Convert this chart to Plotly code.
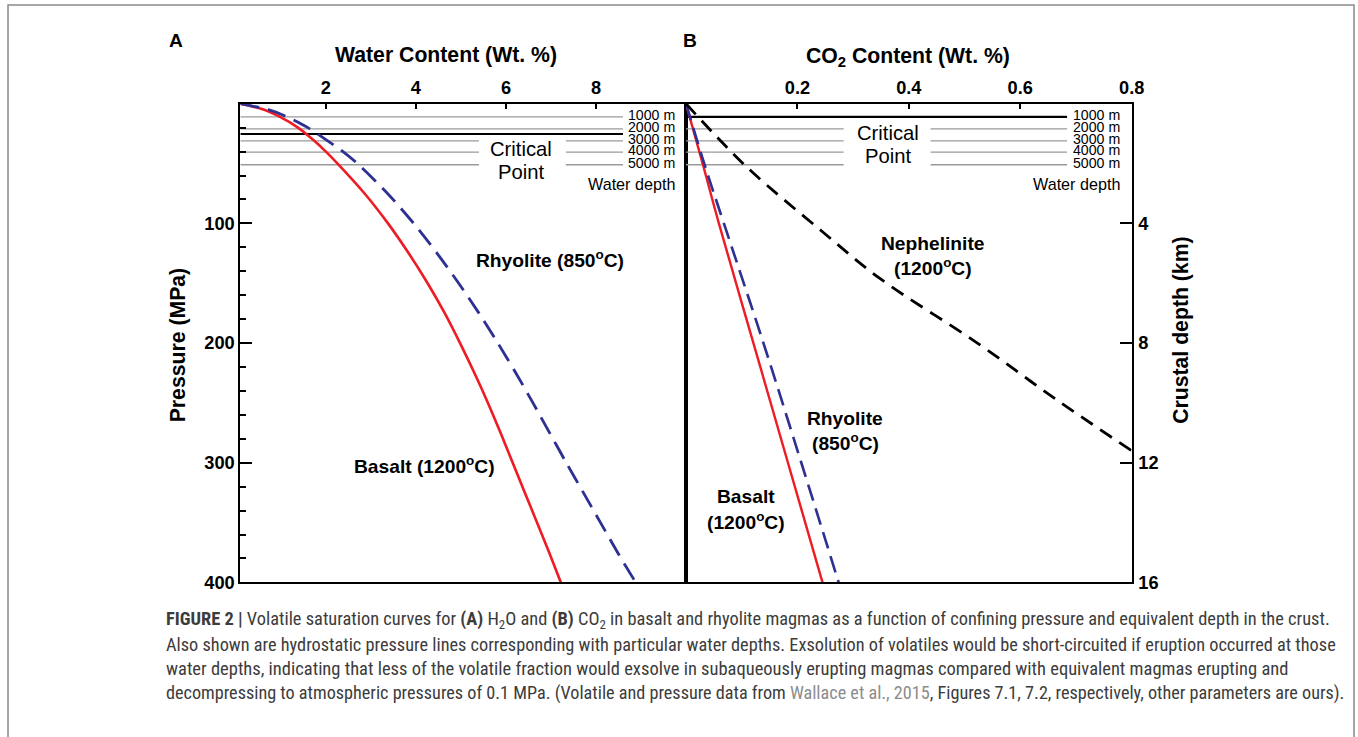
import plotly.graph_objects as go

# ---------------- data ----------------
# Panel A: H2O saturation (wt %) vs pressure (MPa)
pressure_basalt_A = [0, 5, 10, 20, 30, 40, 50, 75, 100, 125, 150, 175, 200, 225, 250, 275, 300,
                     325, 350, 375, 400]
water_basalt = [0.1, 0.63, 0.93, 1.38, 1.71, 2.0, 2.26, 2.86, 3.38, 3.84, 4.26, 4.64, 4.98, 5.3,
                5.6, 5.88, 6.15, 6.42, 6.69, 6.96, 7.22]
pressure_rhyolite_A = [0, 5, 10, 20, 30, 40, 50, 75, 100, 125, 150, 175, 200, 225, 250, 275, 300,
                       325, 350, 375, 398]
water_rhyolite = [0.1, 0.72, 1.08, 1.6, 2.0, 2.38, 2.7, 3.37, 3.95, 4.47, 4.95, 5.4, 5.82, 6.22,
                  6.6, 6.97, 7.34, 7.72, 8.1, 8.48, 8.85]

# Panel B: CO2 saturation (wt %) vs pressure (MPa)
pressure_B = [0, 52, 100, 200, 300, 400]
co2_basalt = [0, 0.031, 0.059, 0.121, 0.183, 0.245]
co2_rhyolite = [0, 0.034, 0.068, 0.139, 0.207, 0.274]
pressure_nephelinite = [0, 52, 107, 146, 200, 246, 290]
co2_nephelinite = [0, 0.107, 0.245, 0.348, 0.523, 0.661, 0.8]

# hydrostatic water-depth lines (pressure in MPa as drawn)
water_depth_labels = ["1000 m", "2000 m", "3000 m", "4000 m", "5000 m"]
water_depth_pressure = [11, 21, 31, 40.5, 51]
critical_pressure_A = 25.3
critical_pressure_B = 11

# axis ticks
water_ticks = [2, 4, 6, 8]
co2_ticks = [0.2, 0.4, 0.6, 0.8]
co2_tick_text = ["0.2", "0.4", "0.6", "0.8"]
pressure_ticks = [100, 200, 300, 400]
depth_ticks = [4, 8, 12, 16]

# ---------------- styles / layout constants ----------------
REF_W, REF_H = 1358, 737
S = 1 / 0.989                      # compensates the viewer's slight down-scaling
W, H = round(REF_W * S), round(REF_H * S)
RED = "#ee1c24"
BLUE = "#2e3192"
GRAY = "#9a9a9a"
FONT = "Liberation Sans, Arial"
CAP_FONT = "Roboto Condensed, Liberation Sans Narrow, Liberation Sans"

def fs(v):
    return v * S

def px_x(v):
    return v / REF_W

def px_y(v):
    return 1 - v / REF_H

plot_top, plot_bottom = 104, 584
A_left, A_right, B_right = 240, 685, 1130

fig = go.Figure()

# ---- panel A depth lines ----
A_line_x0, A_line_x1 = 0.1, 8.6
A_gap = (5.4, 7.33)
for i, p in enumerate(water_depth_pressure):
    if i < 2:
        xs, ys = [A_line_x0, A_line_x1], [p, p]
    else:
        xs = [A_line_x0, A_gap[0], None, A_gap[1], A_line_x1]
        ys = [p, p, None, p, p]
    fig.add_trace(go.Scatter(x=xs, y=ys, mode="lines", line=dict(color=GRAY, width=fs(1.3)),
                             xaxis="x", yaxis="y", hoverinfo="skip"))
fig.add_trace(go.Scatter(x=[A_line_x0, A_line_x1], y=[critical_pressure_A] * 2, mode="lines",
                         line=dict(color="black", width=fs(2)), xaxis="x", yaxis="y", hoverinfo="skip"))

# ---- panel B depth lines ----
B_line_x0, B_line_x1 = 0.0, 0.684
B_gap = (0.283, 0.439)
for i, p in enumerate(water_depth_pressure):
    if i == 0:
        continue
    xs = [B_line_x0, B_gap[0], None, B_gap[1], B_line_x1]
    ys = [p, p, None, p, p]
    fig.add_trace(go.Scatter(x=xs, y=ys, mode="lines", line=dict(color=GRAY, width=fs(1.3)),
                             xaxis="x2", yaxis="y2", hoverinfo="skip"))
fig.add_trace(go.Scatter(x=[B_line_x0, B_line_x1], y=[critical_pressure_B] * 2, mode="lines",
                         line=dict(color="black", width=fs(2)), xaxis="x2", yaxis="y2", hoverinfo="skip"))

# ---- curves ----
fig.add_trace(go.Scatter(x=water_basalt, y=pressure_basalt_A, mode="lines",
                         line=dict(color=RED, width=fs(2.6), shape="spline", smoothing=0.8),
                         xaxis="x", yaxis="y"))
fig.add_trace(go.Scatter(x=water_rhyolite, y=pressure_rhyolite_A, mode="lines",
                         line=dict(color=BLUE, width=fs(2.8), shape="spline", smoothing=0.8,
                                   dash="19px,9px"),
                         xaxis="x", yaxis="y"))
fig.add_trace(go.Scatter(x=co2_basalt, y=pressure_B, mode="lines",
                         line=dict(color=RED, width=fs(2.4), shape="spline"), xaxis="x2", yaxis="y2"))
fig.add_trace(go.Scatter(x=co2_rhyolite, y=pressure_B, mode="lines",
                         line=dict(color=BLUE, width=fs(2.6), shape="spline", dash="17px,8px"),
                         xaxis="x2", yaxis="y2"))
fig.add_trace(go.Scatter(x=co2_nephelinite, y=pressure_nephelinite, mode="lines",
                         line=dict(color="black", width=fs(2.8), shape="spline", dash="14px,9px"),
                         xaxis="x2", yaxis="y2"))

ann = []

def add_text(text, x, y, xref, yref, size, bold=False, xanchor="center", color="black", font=FONT):
    ann.append(dict(text=(f"<b>{text}</b>" if bold else text), x=x, y=y, xref=xref, yref=yref,
                    showarrow=False, xanchor=xanchor, yanchor="middle",
                    font=dict(family=font, size=fs(size), color=color)))

# depth labels
for lab, p in zip(water_depth_labels, water_depth_pressure):
    add_text(lab, 9.8, p - 1.6, "x", "y", 14, xanchor="right")
    add_text(lab, 0.782, p - 1.6, "x2", "y2", 14, xanchor="right")
add_text("Water depth", 9.8, 66.9, "x", "y", 16, xanchor="right")
add_text("Water depth", 0.782, 66.9, "x2", "y2", 16, xanchor="right")
add_text("Critical", 6.345, 37.8, "x", "y", 20)
add_text("Point", 6.345, 57.0, "x", "y", 20)
add_text("Critical", 0.3626, 24.4, "x2", "y2", 20)
add_text("Point", 0.3626, 43.9, "x2", "y2", 20)

# curve labels
deg = "<sup>o</sup>"
add_text(f"Rhyolite (850{deg}C)", 6.97, 129.4, "x", "y", 19, bold=True)
add_text(f"Basalt (1200{deg}C)", 4.19, 302.3, "x", "y", 19, bold=True)
add_text("Nephelinite", 0.4435, 116.7, "x2", "y2", 19, bold=True)
add_text(f"(1200{deg}C)", 0.4435, 136.5, "x2", "y2", 19, bold=True)
add_text("Rhyolite", 0.2858, 262.8, "x2", "y2", 19, bold=True)
add_text(f"(850{deg}C)", 0.2858, 282.8, "x2", "y2", 19, bold=True)
add_text("Basalt", 0.1079, 328.0, "x2", "y2", 19, bold=True)
add_text(f"(1200{deg}C)", 0.1079, 348.8, "x2", "y2", 19, bold=True)

# panel letters and axis titles
add_text("A", px_x(176), px_y(41), "paper", "paper", 19, bold=True)
add_text("B", px_x(689), px_y(41), "paper", "paper", 19, bold=True)
add_text("Water Content (Wt. %)", px_x(445), px_y(55), "paper", "paper", 21, bold=True)
add_text("CO<sub>2</sub> Content (Wt. %)", px_x(907), px_y(57), "paper", "paper", 21, bold=True)
ann.append(dict(text="<b>Pressure (MPa)</b>", x=px_x(178), y=px_y(346), xref="paper", yref="paper",
                showarrow=False, textangle=-90, xanchor="center", yanchor="middle",
                font=dict(family=FONT, size=fs(21), color="black")))
ann.append(dict(text="<b>Crustal depth (km)</b>", x=px_x(1179), y=px_y(331), xref="paper", yref="paper",
                showarrow=False, textangle=-90, xanchor="center", yanchor="middle",
                font=dict(family=FONT, size=fs(21), color="black")))

# caption
cap_color = "#3c3c3c"
link_color = "#8c8c8c"
caption_lines = [
    "<b>FIGURE 2 |</b> Volatile saturation curves for <b>(A)</b> H<sub>2</sub>O and <b>(B)</b> CO<sub>2</sub> in basalt and rhyolite magmas as a function of confining pressure and equivalent depth in the crust.",
    "Also shown are hydrostatic pressure lines corresponding with particular water depths. Exsolution of volatiles would be short-circuited if eruption occurred at those",
    "water depths, indicating that less of the volatile fraction would exsolve in subaqueously erupting magmas compared with equivalent magmas erupting and",
    f"decompressing to atmospheric pressures of 0.1 MPa. (Volatile and pressure data from <span style='color:{link_color}'>Wallace et al., 2015</span>, Figures 7.1, 7.2, respectively, other parameters are ours).",
]
caption_y = [622, 646.5, 671, 695]
caption_size = [18.2, 18.1, 18.3, 18.0]
for line, yy, sz in zip(caption_lines, caption_y, caption_size):
    ann.append(dict(text=line, x=px_x(164), y=px_y(yy), xref="paper", yref="paper", showarrow=False,
                    xanchor="left", yanchor="middle", align="left",
                    font=dict(family=CAP_FONT, size=fs(sz), color=cap_color)))

tickfont = dict(family=FONT, size=fs(18), color="black", weight="bold")
common_x = dict(showgrid=False, zeroline=False, showline=True, mirror=True, linecolor="black",
                linewidth=fs(2), side="top", ticks="inside", ticklen=fs(5), tickwidth=fs(1.5),
                tickcolor="black", tickfont=tickfont)
common_y = dict(showgrid=False, zeroline=False, showline=True, mirror=True, linecolor="black",
                linewidth=fs(2), domain=[px_y(plot_bottom), px_y(plot_top)], range=[400, 0])

fig.update_layout(
    width=W, height=H, autosize=False, margin=dict(l=0, r=0, t=0, b=0, pad=0),
    paper_bgcolor="white", plot_bgcolor="rgba(0,0,0,0)", showlegend=False,
    xaxis=dict(common_x, domain=[px_x(A_left), px_x(A_right)], range=[0.1, 10], tickvals=water_ticks,
               anchor="y"),
    yaxis=dict(common_y, anchor="x", tickvals=pressure_ticks, ticks="inside", ticklen=fs(12),
               tickwidth=fs(1.5), tickcolor="black", tickfont=tickfont,
               minor=dict(dtick=20, tick0=0, ticks="inside", ticklen=fs(6), tickwidth=fs(1.5),
                          tickcolor="black")),
    xaxis2=dict(common_x, domain=[px_x(A_right), px_x(B_right)], range=[0, 0.8], tickvals=co2_ticks,
                ticktext=co2_tick_text, anchor="y2"),
    yaxis2=dict(common_y, anchor="x2", showticklabels=False, ticks=""),
    yaxis3=dict(overlaying="y2", anchor="x2", side="right", range=[16, 0], tickvals=depth_ticks,
                ticks="inside", ticklen=fs(12), tickwidth=fs(1.5), tickcolor="black", tickfont=tickfont,
                showgrid=False, zeroline=False, showline=True, linecolor="black", linewidth=fs(2),
                ticklabelstandoff=1),
    annotations=ann,
    shapes=[dict(type="rect", xref="paper", yref="paper", x0=px_x(8), x1=px_x(1352), y0=-0.05,
                 y1=px_y(5), line=dict(color="#8a8a8a", width=fs(1.5)), layer="below")],
)
# invisible trace so yaxis3 is drawn
fig.add_trace(go.Scatter(x=[None], y=[None], xaxis="x2", yaxis="y3", showlegend=False))

fig.write_html("out.html")
